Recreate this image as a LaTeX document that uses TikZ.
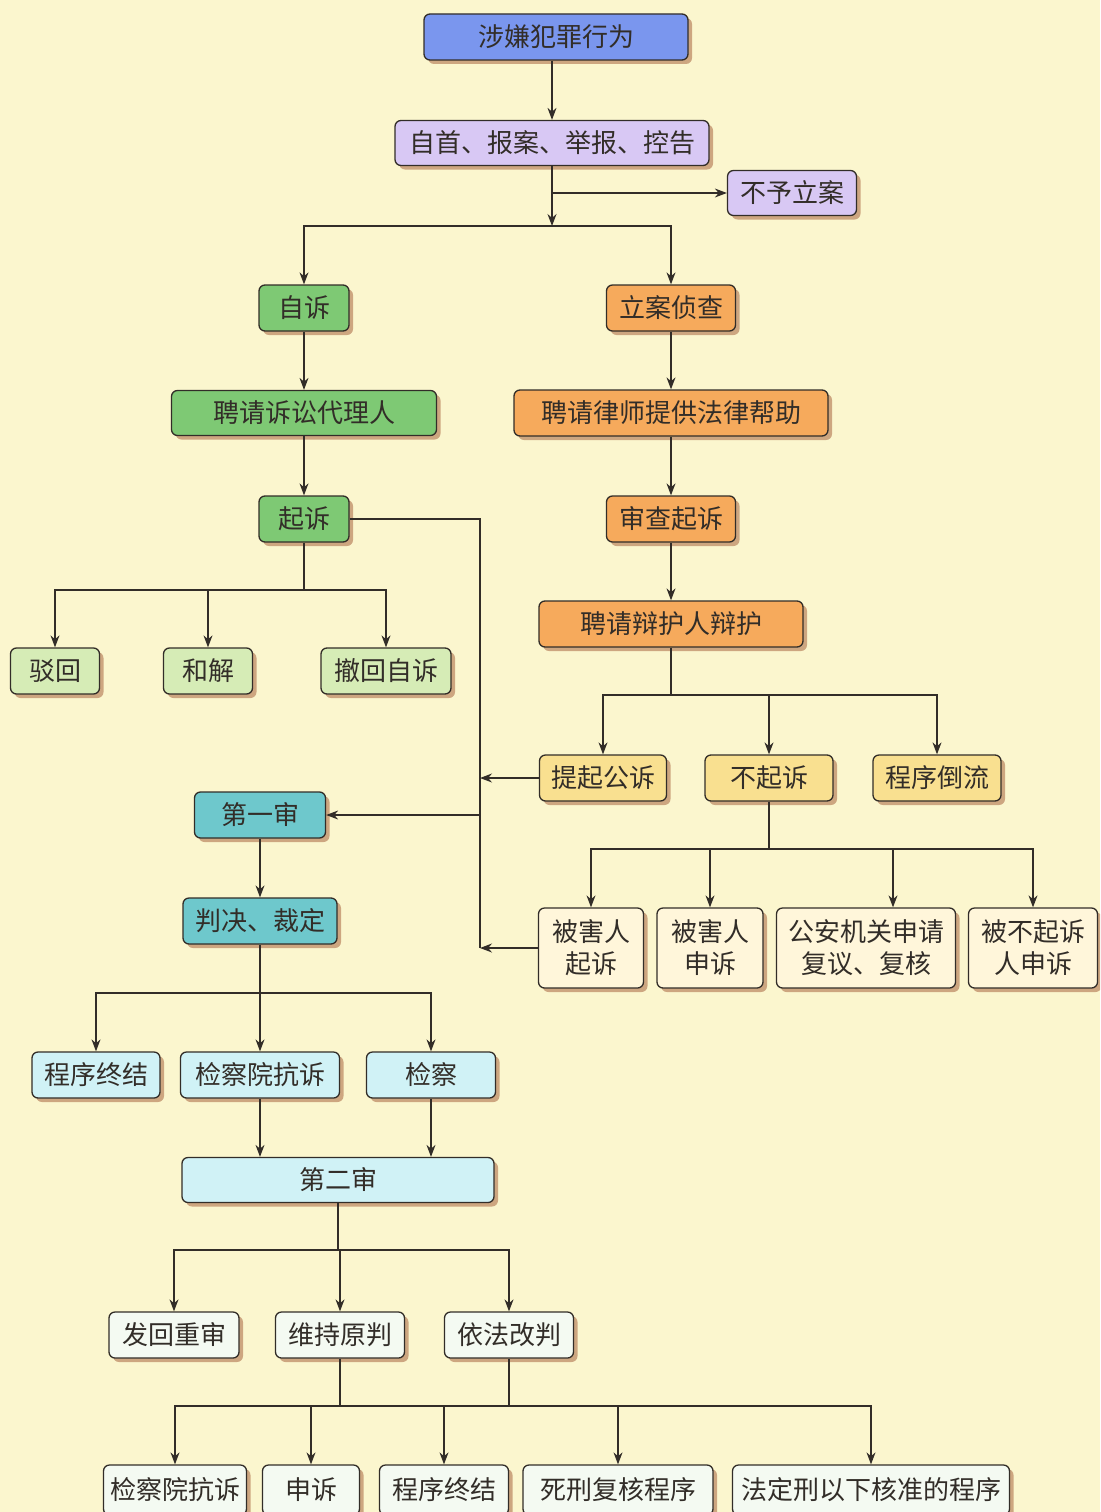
\documentclass[tikz,border=0pt]{standalone}
\usepackage{fontspec}
\newfontfamily\cjk{Noto Sans CJK SC}
\usetikzlibrary{arrows.meta,shadows,positioning}
\definecolor{paper}{RGB}{251,246,206}
\definecolor{ink}{RGB}{50,45,40}
\definecolor{shade}{RGB}{150,70,35}
\definecolor{cblue}{RGB}{122,150,238}
\definecolor{clav}{RGB}{216,200,244}
\definecolor{cgreen}{RGB}{126,201,116}
\definecolor{corange}{RGB}{246,170,92}
\definecolor{clgreen}{RGB}{214,236,182}
\definecolor{cyellow}{RGB}{249,224,144}
\definecolor{ccream}{RGB}{255,246,218}
\definecolor{cteal}{RGB}{110,200,204}
\definecolor{ccyan}{RGB}{208,242,246}
\definecolor{cwhite}{RGB}{244,250,242}

\begin{document}
\begin{tikzpicture}[x=1pt,y=-1pt,
    box/.style={draw=ink,line width=1.3pt,rounded corners=6pt,text=ink,
      font=\cjk\fontsize{26}{32}\selectfont,inner sep=0pt,align=center,
      minimum height=46pt,
      drop shadow={shadow xshift=4pt,shadow yshift=-4pt,fill=shade,opacity=0.45}},
    arr/.style={-{Stealth[length=12pt,width=9pt]},line width=1.2pt,draw=ink},
    ln/.style={line width=1.2pt,draw=ink}]
    %initialisation
    \fill[paper] (0,0) rectangle (1100,1512);
    \useasboundingbox (0,0) rectangle (1100,1512);
    \clip (0,0) rectangle (1100,1512);
    %top
    \node[box,fill=cblue,minimum width=264pt] (crime) at (556,37) {涉嫌犯罪行为};
    \node[box,fill=clav,minimum width=314pt,minimum height=45pt] (report) at (552,143) {自首、报案、举报、控告};
    \node[box,fill=clav,minimum width=129pt,minimum height=45pt] (noreg) at (792,193) {不予立案};
    %left column
    \node[box,fill=cgreen,minimum width=90pt] (zisu) at (304,308) {自诉};
    \node[box,fill=cgreen,minimum width=265pt,minimum height=45pt] (daili) at (304,413) {聘请诉讼代理人};
    \node[box,fill=cgreen,minimum width=90pt] (qisu) at (304,519) {起诉};
    \node[box,fill=clgreen,minimum width=89pt] (bohui) at (55,671) {驳回};
    \node[box,fill=clgreen,minimum width=89pt] (hejie) at (208,671) {和解};
    \node[box,fill=clgreen,minimum width=130pt] (chehui) at (386,671) {撤回自诉};
    %right column
    \node[box,fill=corange,minimum width=129pt] (lian) at (671,308) {立案侦查};
    \node[box,fill=corange,minimum width=314pt] (lvshi) at (671,413) {聘请律师提供法律帮助};
    \node[box,fill=corange,minimum width=129pt] (shencha) at (671,519) {审查起诉};
    \node[box,fill=corange,minimum width=264pt] (bianhu) at (671,624) {聘请辩护人辩护};
    \node[box,fill=cyellow,minimum width=127pt] (gongsu) at (603,778) {提起公诉};
    \node[box,fill=cyellow,minimum width=128pt] (buqisu) at (769,778) {不起诉};
    \node[box,fill=cyellow,minimum width=128pt] (daoliu) at (937,778) {程序倒流};
    \node[box,fill=ccream,minimum width=105pt,minimum height=80pt] (vqisu) at (591,948) {被害人\\起诉};
    \node[box,fill=ccream,minimum width=106pt,minimum height=80pt] (vshensu) at (710,948) {被害人\\申诉};
    \node[box,fill=ccream,minimum width=179pt,minimum height=80pt] (gongan) at (866,948) {公安机关申请\\复议、复核};
    \node[box,fill=ccream,minimum width=129pt,minimum height=80pt] (bbq) at (1033,948) {被不起诉\\人申诉};
    %trial
    \node[box,fill=cteal,minimum width=131pt] (shen1) at (260,815) {第一审};
    \node[box,fill=cteal,minimum width=154pt] (panjue) at (260,921) {判决、裁定};
    \node[box,fill=ccyan,minimum width=128pt] (zhongjie1) at (96,1075) {程序终结};
    \node[box,fill=ccyan,minimum width=159pt] (kangsu1) at (260,1075) {检察院抗诉};
    \node[box,fill=ccyan,minimum width=129pt] (jiancha) at (431,1075) {检察};
    \node[box,fill=ccyan,minimum width=312pt,minimum height=45pt] (shen2) at (338,1180) {第二审};
    \node[box,fill=cwhite,minimum width=130pt] (fahui) at (174,1335) {发回重审};
    \node[box,fill=cwhite,minimum width=129pt] (weichi) at (340,1335) {维持原判};
    \node[box,fill=cwhite,minimum width=129pt] (gaipan) at (509,1335) {依法改判};
    \node[box,fill=cwhite,minimum width=143pt,minimum height=50pt] (kangsu2) at (175,1490) {检察院抗诉};
    \node[box,fill=cwhite,minimum width=97pt,minimum height=50pt] (shensu) at (311,1490) {申诉};
    \node[box,fill=cwhite,minimum width=129pt,minimum height=50pt] (zhongjie2) at (444,1490) {程序终结};
    \node[box,fill=cwhite,minimum width=190pt,minimum height=50pt] (sixing) at (618,1490) {死刑复核程序};
    \node[box,fill=cwhite,minimum width=277pt,minimum height=50pt] (hezhun) at (871,1490) {法定刑以下核准的程序};
    %junctions
    \coordinate (j0) at (552,226);
    \coordinate (jn) at (552,193);
    \coordinate (j1) at (304,590);
    \coordinate (k0) at (480,948);
    \coordinate (j2) at (671,695);
    \coordinate (j3) at (769,849);
    \coordinate (j4) at (260,993);
    \coordinate (j5) at (338,1250);
    \coordinate (j6) at (340,1406);
    %connectors
    \draw[arr] (crime.south -| report) -- (report);
    \draw[arr] (report) -- (j0);
    \draw[arr] (jn) -- (noreg);
    \draw[arr] (j0) -| (zisu);
    \draw[arr] (j0) -| (lian);
    \draw[arr] (zisu) -- (daili);
    \draw[arr] (daili) -- (qisu);
    \draw[ln] (qisu) -- (j1);
    \draw[arr] (j1) -| (bohui);
    \draw[arr] (j1) -| (hejie);
    \draw[arr] (j1) -| (chehui);
    \draw[arr] (lian) -- (lvshi);
    \draw[arr] (lvshi) -- (shencha);
    \draw[arr] (shencha) -- (bianhu);
    \draw[ln] (bianhu) -- (j2);
    \draw[arr] (j2) -| (gongsu);
    \draw[arr] (j2) -| (buqisu);
    \draw[arr] (j2) -| (daoliu);
    \draw[ln] (buqisu) -- (j3);
    \draw[arr] (j3) -| (vqisu);
    \draw[arr] (j3) -| (vshensu);
    \draw[arr] (j3) -| ([xshift=27pt]gongan.north);
    \draw[arr] (j3) -| (bbq);
    \draw[ln] (qisu) -| (k0);
    \draw[arr] (gongsu) -- (gongsu.west -| k0);
    \draw[arr] (vqisu) -- (vqisu.west -| k0);
    \draw[arr] (shen1.east -| k0) -- (shen1);
    \draw[arr] (shen1) -- (panjue);
    \draw[arr] (panjue) -- (kangsu1);
    \draw[arr] (j4) -| (zhongjie1);
    \draw[arr] (j4) -| (jiancha);
    \draw[arr] (kangsu1) -- (kangsu1 |- shen2.north);
    \draw[arr] (jiancha) -- (jiancha |- shen2.north);
    \draw[ln] (shen2) -- (j5);
    \draw[arr] (j5) -| (fahui);
    \draw[arr] (j5) -| (weichi);
    \draw[arr] (j5) -| (gaipan);
    \draw[ln] (weichi) -- (j6);
    \draw[ln] (gaipan) -- (gaipan |- j6);
    \draw[arr] (j6) -| (kangsu2);
    \draw[arr] (j6) -| (shensu);
    \draw[arr] (j6) -| (zhongjie2);
    \draw[arr] (j6) -| (sixing);
    \draw[arr] (j6) -| (hezhun);
\end{tikzpicture}
\end{document}
